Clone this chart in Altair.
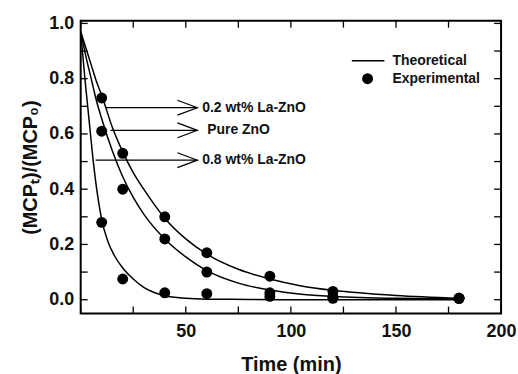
import altair as alt
import pandas as pd

FONT = "Liberation Sans"

t_exp = [10, 20, 40, 60, 90, 120, 180]
exp_02 = [0.73, 0.53, 0.30, 0.17, 0.085, 0.03, 0.005]
exp_pure = [0.61, 0.40, 0.22, 0.10, 0.025, 0.01, 0.005]
exp_08 = [0.28, 0.075, 0.025, 0.022, 0.012, 0.005, 0.005]

# Theoretical curves
t_fit_02 = [0, 2.5, 5, 7.5, 10, 15, 20, 25, 30, 40, 50, 60, 75, 90, 105, 120, 150, 180]
fit_02 = [0.97, 0.91, 0.85, 0.79, 0.74, 0.625, 0.535, 0.46, 0.40, 0.295, 0.22, 0.165, 0.11, 0.075, 0.05, 0.034, 0.015, 0.005]
t_fit_pure = [0, 2.5, 5, 7.5, 10, 15, 20, 25, 30, 40, 50, 60, 75, 90, 105, 120, 150, 180]
fit_pure = [0.97, 0.88, 0.80, 0.72, 0.655, 0.54, 0.445, 0.37, 0.31, 0.22, 0.155, 0.105, 0.06, 0.035, 0.02, 0.012, 0.005, 0.003]
t_fit_08 = [0, 2, 4, 6, 8, 10, 13, 16, 20, 25, 30, 35, 40, 50, 60, 80, 100, 140, 180]
fit_08 = [0.97, 0.80, 0.65, 0.50, 0.38, 0.29, 0.21, 0.16, 0.115, 0.075, 0.045, 0.026, 0.014, 0.005, 0.002, 0.001, 0.0, 0.0, 0.0]

series_names = ["0.2 wt% La-ZnO", "Pure ZnO", "0.8 wt% La-ZnO"]

# Annotation arrows
arrow_y = [0.695, 0.613, 0.505]
arrow_x0 = [11.8, 14.2, 7.1]
arrow_x1 = [55.5, 55.5, 55.5]
label_x = [57.8, 60.2, 57.8]

# Legend
legend_line_x = [129, 144.5]
legend_line_y = 0.865
legend_point = (136.5, 0.80)
legend_text_x = 148.3
legend_labels = ["Theoretical", "Experimental"]
legend_text_y = [0.865, 0.80]

# Axes
x_label_vals = [50, 100, 150, 200]
x_tick_vals = [0, 25, 50, 75, 100, 125, 150, 175, 200]
y_label_vals = [0.0, 0.2, 0.4, 0.6, 0.8, 1.0]
y_tick_vals = [0.0, 0.1, 0.2, 0.3, 0.4, 0.5, 0.6, 0.7, 0.8, 0.9, 1.0]

X_DOMAIN = [0, 200]
Y_DOMAIN = [-0.05, 1.01]

W, H = 422, 294
TICK = 7
FRAME = "black"

X_SCALE = alt.Scale(domain=X_DOMAIN, nice=False, zero=False)
Y_SCALE = alt.Scale(domain=Y_DOMAIN, nice=False, zero=False)

X_AXIS = alt.Axis(
    orient="bottom", values=x_label_vals, ticks=False, grid=False, domain=False,
    labelFlush=False, labelOverlap=False,
    labelFont=FONT, labelFontSize=18, labelFontWeight="bold", labelColor="#111",
    labelPadding=9, title="Time (min)", titleFont=FONT, titleFontSize=20,
    titleFontWeight="bold", titleColor="#111", titlePadding=14)
Y_AXIS = alt.Axis(
    orient="left", values=y_label_vals, format=".1f", ticks=False, grid=False, domain=False,
    labelFlush=False, labelOverlap=False,
    labelFont=FONT, labelFontSize=18, labelFontWeight="bold", labelColor="#111",
    labelPadding=7, title="(MCPₜ)/(MCP₀)", titleFont=FONT, titleFontSize=20,
    titleFontWeight="bold", titleColor="#111", titlePadding=8)


def X(field):
    return alt.X(field, type="quantitative", scale=X_SCALE, axis=X_AXIS)


def Y(field):
    return alt.Y(field, type="quantitative", scale=Y_SCALE, axis=Y_AXIS)


fit_rows = []
for name, ts, vs in zip(series_names, [t_fit_02, t_fit_pure, t_fit_08], [fit_02, fit_pure, fit_08]):
    for t, v in zip(ts, vs):
        fit_rows.append({"t": t, "v": v, "series": name})
fit_df = pd.DataFrame(fit_rows)

exp_rows = []
for name, vs in zip(series_names, [exp_02, exp_pure, exp_08]):
    for t, v in zip(t_exp, vs):
        exp_rows.append({"t": t, "v": v, "series": name})
exp_df = pd.DataFrame(exp_rows)

arrow_df = pd.DataFrame({"t": arrow_x0, "t2": arrow_x1, "v": arrow_y,
                         "lx": label_x, "label": series_names})

# Frame and inward ticks on all four sides (ticks placed through the scales)
frame = alt.Chart(pd.DataFrame({"k": [0]})).mark_rect(
    filled=False, stroke=FRAME, strokeWidth=2
).encode(x=alt.value(0), x2=alt.value(W), y=alt.value(0), y2=alt.value(H))

xt_df = pd.DataFrame({"t": x_tick_vals})
yt_df = pd.DataFrame({"v": y_tick_vals})
tick_mark = dict(color=FRAME, strokeWidth=1.3)
ticks_bottom = alt.Chart(xt_df).mark_rule(**tick_mark).encode(
    x=X("t"), y=alt.value(H), y2=alt.value(H - TICK))
ticks_top = alt.Chart(xt_df).mark_rule(**tick_mark).encode(
    x=X("t"), y=alt.value(0), y2=alt.value(TICK))
ticks_left = alt.Chart(yt_df).mark_rule(**tick_mark).encode(
    y=Y("v"), x=alt.value(0), x2=alt.value(TICK))
ticks_right = alt.Chart(yt_df).mark_rule(**tick_mark).encode(
    y=Y("v"), x=alt.value(W), x2=alt.value(W - TICK))

lines = alt.Chart(fit_df).mark_line(interpolate="monotone", color="black", strokeWidth=1.5).encode(
    x=X("t"), y=Y("v"), detail="series:N",
)

points = alt.Chart(exp_df).mark_circle(color="black", opacity=1, size=120).encode(
    x=X("t"), y=Y("v"),
)

arrows = alt.Chart(arrow_df).mark_rule(color="black", strokeWidth=1.2).encode(
    x=X("t"), x2="t2:Q", y=Y("v"),
)

heads = alt.Chart(arrow_df).mark_point(
    shape="M-1,-0.375L0,0L-1,0.375", filled=False, color="black", strokeWidth=1.2, size=1600, opacity=1
).encode(
    x=X("t2"), y=Y("v"),
)

labels = alt.Chart(arrow_df).mark_text(
    align="left", baseline="middle", font=FONT, fontSize=14, fontWeight="bold", color="#111"
).encode(
    x=X("lx"), y=Y("v"), text="label:N",
)

leg_line_df = pd.DataFrame({"t": [legend_line_x[0]], "t2": [legend_line_x[1]], "v": [legend_line_y]})
leg_line = alt.Chart(leg_line_df).mark_rule(color="black", strokeWidth=1.5).encode(
    x=X("t"), x2="t2:Q", y=Y("v"),
)
leg_pt_df = pd.DataFrame({"t": [legend_point[0]], "v": [legend_point[1]]})
leg_pt = alt.Chart(leg_pt_df).mark_circle(color="black", opacity=1, size=120).encode(
    x=X("t"), y=Y("v"),
)
leg_txt_df = pd.DataFrame({"t": [legend_text_x] * 2, "v": legend_text_y, "label": legend_labels})
leg_txt = alt.Chart(leg_txt_df).mark_text(
    align="left", baseline="middle", font=FONT, fontSize=14, fontWeight="bold", color="#111"
).encode(
    x=X("t"), y=Y("v"), text="label:N",
)

chart = alt.layer(
    frame, ticks_bottom, ticks_top, ticks_left, ticks_right,
    lines, points, arrows, heads, labels, leg_line, leg_pt, leg_txt
).properties(
    width=W, height=H,
    padding={"left": 20, "top": 13, "right": 1, "bottom": 5},
).configure_view(
    strokeWidth=0
)

chart.save("out.html", embed_options={"renderer": "svg", "actions": False})
